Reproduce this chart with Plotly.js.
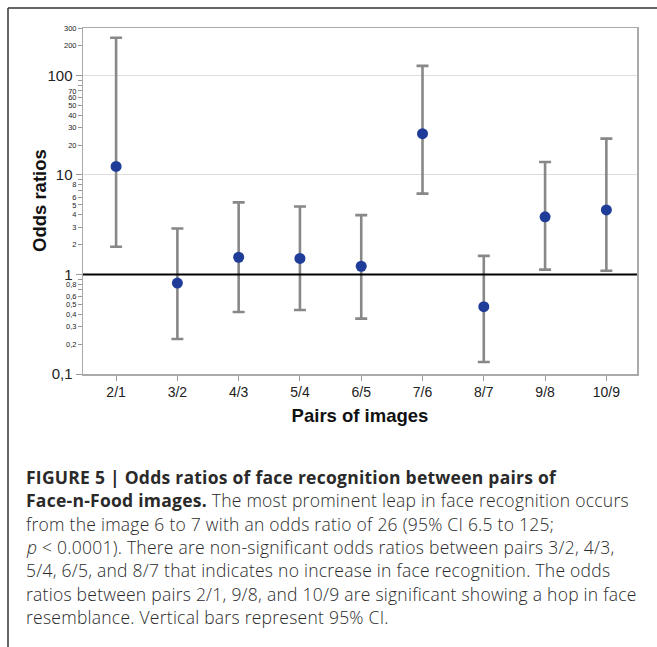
<!DOCTYPE html>
<html>
<head>
<meta charset="utf-8">
<script src="https://cdn.plot.ly/plotly-3.0.1.min.js"></script>
<style>
  html, body { margin: 0; padding: 0; background: #fff; }
  #chart { width: 657px; height: 647px; }
  .caption-text .annotation-text { letter-spacing: 0.25px; }
</style>
</head>
<body>
<div id="chart"></div>
<script>
// ---- data ----
const pairs = ["2/1", "3/2", "4/3", "5/4", "6/5", "7/6", "8/7", "9/8", "10/9"];
const oddsRatio = [12.2, 0.82, 1.49, 1.45, 1.21, 26, 0.475, 3.8, 4.46];
const ciUpper = [239, 2.9, 5.3, 4.83, 3.95, 125, 1.54, 13.5, 23.2];
const ciLower = [1.9, 0.225, 0.42, 0.44, 0.36, 6.5, 0.132, 1.12, 1.09];

const majorTickVals = [0.1, 1, 10, 100];
const majorTickText = ["0,1", "1", "10", "100"];
const minorTickVals = [0.2, 0.3, 0.4, 0.5, 0.6, 0.7, 0.8, 0.9,
                       2, 3, 4, 5, 6, 7, 8, 9,
                       20, 30, 40, 50, 60, 70, 80, 90,
                       200, 300];
const minorTickText = ["0,2", "0,3", "0,4", "0,5", "0,6", "", "0,8", "",
                       "2", "3", "4", "5", "6", "", "8", "",
                       "20", "30", "40", "50", "60", "70", "", "",
                       "200", "300"];
const referenceOR = 1;

const xTitle = "Pairs of images";
const yTitle = "Odds ratios";

const captionLines = [
  "<b>FIGURE 5 | Odds ratios of face recognition between pairs of</b>",
  "<b>Face-n-Food images.</b> The most prominent leap in face recognition occurs",
  "from the image 6 to 7 with an odds ratio of 26 (95% CI 6.5 to 125;",
  "<i>p</i> < 0.0001). There are non-significant odds ratios between pairs 3/2, 4/3,",
  "5/4, 6/5, and 8/7 that indicates no increase in face recognition. The odds",
  "ratios between pairs 2/1, 9/8, and 10/9 are significant showing a hop in face",
  "resemblance. Vertical bars represent 95% CI."
];

// ---- layout geometry (pixels) ----
const W = 657, H = 647;
const mL = 83, mR = 20, mT = 28, mB = 273;
const plotW = W - mL - mR, plotH = H - mT - mB;
const px2x = px => (px - mL) / plotW;
const py2y = py => (H - mB - py) / plotH;

const yRange = [-1, Math.log10(300)];

const errPlus = ciUpper.map((u, i) => u - oddsRatio[i]);
const errMinus = ciLower.map((l, i) => oddsRatio[i] - l);

const traces = [
  {
    type: "scatter",
    mode: "markers",
    x: pairs,
    y: oddsRatio,
    xaxis: "x",
    yaxis: "y",
    marker: { color: "#1f3d98", size: 11 },
    error_y: {
      type: "data",
      symmetric: false,
      array: errPlus,
      arrayminus: errMinus,
      color: "#888888",
      thickness: 2.6,
      width: 6
    },
    hoverinfo: "x+y",
    showlegend: false
  },
  {
    type: "scatter",
    mode: "markers",
    x: [pairs[0]],
    y: [referenceOR],
    xaxis: "x",
    yaxis: "y2",
    marker: { opacity: 0 },
    hoverinfo: "skip",
    showlegend: false
  }
];

const tickFont = { family: "Liberation Sans, Arial, sans-serif", color: "#222" };
const titleFont = { family: "Liberation Sans, Arial, sans-serif", size: 18.5, color: "#111" };

const annotations = captionLines.map((t, i) => ({
  xref: "paper", yref: "paper",
  x: px2x(24), y: py2y(477 + i * 23.3),
  xanchor: "left", yanchor: "middle",
  text: t, showarrow: false, align: "left",
  font: { family: "Open Sans, sans-serif", size: 17.5, color: "#2a2a2a", weight: 300 },
  name: "caption"
}));

annotations.push({
  xref: "paper", yref: "paper",
  x: px2x(39), y: 0.5,
  xanchor: "center", yanchor: "middle",
  textangle: -90,
  text: "<b>" + yTitle + "</b>", showarrow: false,
  font: titleFont
});

const layout = {
  width: W, height: H,
  margin: { l: mL, r: mR, t: mT, b: mB, pad: 0 },
  paper_bgcolor: "#fff",
  plot_bgcolor: "#fff",
  showlegend: false,
  xaxis: {
    type: "category",
    range: [-0.54, 8.5],
    showline: true, mirror: true, linecolor: "#aaaaaa", linewidth: 1.5,
    ticks: "outside", ticklen: 5, tickcolor: "#999", tickwidth: 1,
    showgrid: false, zeroline: false,
    tickfont: Object.assign({ size: 14 }, tickFont),
    title: {
      text: "<b>" + xTitle + "</b>",
      font: titleFont,
      standoff: 10
    },
    fixedrange: true
  },
  yaxis: {
    type: "log",
    range: yRange,
    tickmode: "array",
    tickvals: majorTickVals,
    ticktext: majorTickText,
    showline: true, mirror: true, linecolor: "#aaaaaa", linewidth: 1.5,
    ticks: "outside", ticklen: 6, tickcolor: "#999", tickwidth: 1,
    showgrid: true, gridcolor: "#dddddd", gridwidth: 1,
    zeroline: false,
    tickfont: Object.assign({ size: 15 }, tickFont),
    fixedrange: true
  },
  yaxis2: {
    type: "log",
    range: yRange,
    overlaying: "y",
    side: "left",
    tickmode: "array",
    tickvals: minorTickVals,
    ticktext: minorTickText,
    showline: false,
    ticks: "outside", ticklen: 4, tickcolor: "#999", tickwidth: 1,
    showgrid: false, zeroline: false,
    tickfont: Object.assign({ size: 7.5 }, tickFont),
    fixedrange: true
  },
  shapes: [
    {
      type: "line", xref: "paper", yref: "y",
      x0: 0, x1: 1, y0: referenceOR, y1: referenceOR,
      line: { color: "#000", width: 2 },
      layer: "above"
    },
    {
      type: "line", xref: "paper", yref: "paper",
      x0: px2x(8), x1: px2x(W + 5), y0: py2y(8), y1: py2y(8),
      line: { color: "#333", width: 1.5 }
    },
    {
      type: "line", xref: "paper", yref: "paper",
      x0: px2x(8), x1: px2x(8), y0: py2y(8), y1: py2y(H + 5),
      line: { color: "#333", width: 1.5 }
    }
  ],
  annotations: annotations
};

Plotly.newPlot("chart", traces, layout, { displayModeBar: false, staticPlot: true }).then(() => {
  // mark caption annotations so the letter-spacing rule applies only to them
  const groups = document.querySelectorAll("#chart .annotation");
  groups.forEach((g, i) => { if (i < captionLines.length) g.classList.add("caption-text"); });
});
</script>
</body>
</html>
